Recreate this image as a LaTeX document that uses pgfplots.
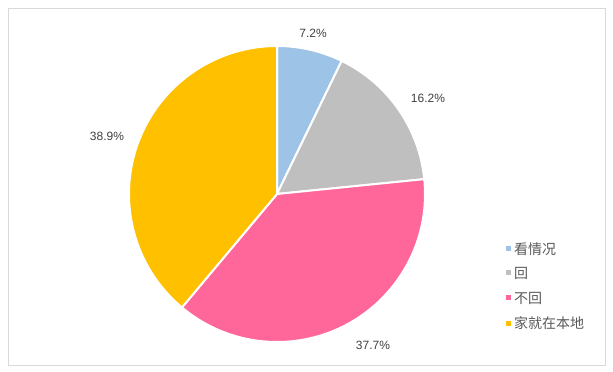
\documentclass[border=0pt]{standalone}
\usepackage{pgfplots}
\pgfplotsset{compat=1.18}
\usepackage{fontspec}
\setmainfont{Liberation Sans}
\newfontfamily\cjk{Noto Sans CJK SC}
\definecolor{cA}{HTML}{9DC3E6}
\definecolor{cB}{HTML}{BFBFBF}
\definecolor{cC}{HTML}{FF6699}
\definecolor{cD}{HTML}{FFC000}
\definecolor{txt}{HTML}{404040}
\definecolor{legtxt}{HTML}{595959}
\definecolor{frame}{HTML}{D9D9D9}
\begin{document}
\begin{tikzpicture}
\begin{axis}[
  scale only axis, width=613pt, height=372pt,
  xmin=0, xmax=613, ymin=0, ymax=372,
  hide axis, clip=false,
]
% frame
\draw[frame, line width=0.8pt] (axis cs:8,7) rectangle (axis cs:605,364);
% pie: values 7.2, 16.2, 37.7, 38.9 (%), clockwise from 90 deg
% angles = value*3.6
\fill[cA, draw=white, line width=2pt] (axis cs:277,178) -- ++(90:148) arc[start angle=90, end angle=64.08, radius=148] -- cycle;
\fill[cB, draw=white, line width=2pt] (axis cs:277,178) -- ++(64.08:148) arc[start angle=64.08, end angle=5.76, radius=148] -- cycle;
\fill[cC, draw=white, line width=2pt] (axis cs:277,178) -- ++(5.76:148) arc[start angle=5.76, end angle=-129.96, radius=148] -- cycle;
\fill[cD, draw=white, line width=2pt] (axis cs:277,178) -- ++(-129.96:148) arc[start angle=-129.96, end angle=-270, radius=148] -- cycle;
% labels
\begin{scope}[every node/.style={text=txt, font=\fontsize{12}{14}\selectfont, inner sep=0pt}]
\node at (axis cs:313,339) {7.2\%};
\node at (axis cs:428,274) {16.2\%};
\node at (axis cs:373,27) {37.7\%};
\node at (axis cs:107,236) {38.9\%};
\end{scope}
% legend
\begin{scope}[every node/.style={text=legtxt, font=\cjk\fontsize{14}{16}\selectfont, inner sep=0pt, anchor=west}]
\fill[cA] (axis cs:505.5,120.5) rectangle (axis cs:510.5,125.5);
\node at (axis cs:514,123) {看情况};
\fill[cB] (axis cs:505.5,96.5) rectangle (axis cs:510.5,101.5);
\node at (axis cs:514,99) {回};
\fill[cC] (axis cs:505.5,71.5) rectangle (axis cs:510.5,76.5);
\node at (axis cs:514,74) {不回};
\fill[cD] (axis cs:505.5,46.5) rectangle (axis cs:510.5,51.5);
\node at (axis cs:514,49) {家就在本地};
\end{scope}
\end{axis}
\pgfresetboundingbox
\path (current axis.south west) rectangle (current axis.north east);
\end{tikzpicture}
\end{document}
